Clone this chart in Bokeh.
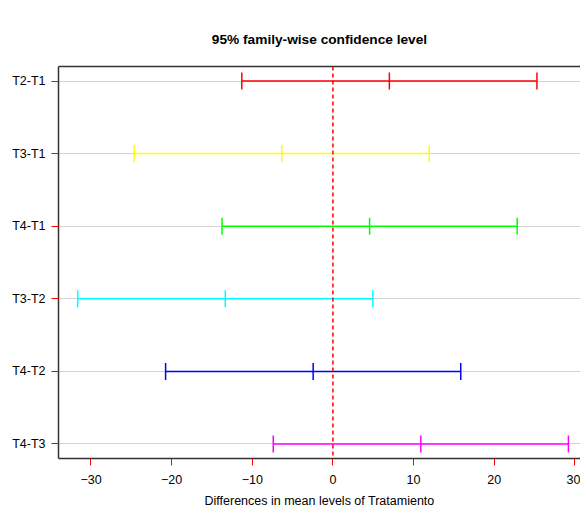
import math
from bokeh.plotting import figure
from bokeh.models import ColumnDataSource, FixedTicker, LinearAxis, Span, Range1d
from bokeh.embed import file_html
from bokeh.resources import INLINE

# Data
comparisons = ["T2-T1", "T3-T1", "T4-T1", "T3-T2", "T4-T2", "T4-T3"]
diff = [7.0, -6.35, 4.55, -13.35, -2.45, 10.9]
lwr = [-11.3, -24.65, -13.75, -31.65, -20.75, -7.4]
upr = [25.3, 11.95, 22.85, 4.95, 15.85, 29.2]
colors = ["red", "yellow", "#00ff00", "cyan", "blue", "magenta"]
x_ticks = [-30, -20, -10, 0, 10, 20, 30]
title_text = "95% family-wise confidence level"
xlabel_text = "Differences in mean levels of Tratamiento"

n = len(comparisons)
ypos = [n - i for i in range(n)]

src = ColumnDataSource(dict(comp=comparisons, diff=diff, lwr=lwr, upr=upr, y=ypos, color=colors))

FONT = "Liberation Sans"

p = figure(width=580, height=510, output_backend="svg", toolbar_location=None,
           x_range=Range1d(-34.03, 30.7), y_range=Range1d(0.8, 6.2),
           min_border_left=58, min_border_right=0, min_border_top=66, min_border_bottom=52)
p.outline_line_color = None
p.background_fill_color = "white"
p.border_fill_color = "white"

# title
p.title.text = title_text
p.title.align = "center"
p.title.text_font = FONT
p.title.text_font_size = "13.7px"
p.title.text_font_style = "bold"
p.title.text_color = "black"
p.title.standoff = 19

# x axis
xa = p.xaxis[0]
xa.ticker = FixedTicker(ticks=x_ticks)
xa.axis_line_color = "#333333"
xa.axis_line_width = 1.5
xa.major_tick_line_color = "red"
xa.major_tick_out = 7
xa.major_tick_in = 0
xa.minor_tick_line_color = None
xa.major_label_text_font = FONT
xa.major_label_text_font_size = "12.5px"
xa.major_label_text_color = "black"
xa.major_label_standoff = 9
xa.axis_label = xlabel_text
xa.axis_label_text_font = FONT
xa.axis_label_text_font_size = "12.5px"
xa.axis_label_text_font_style = "normal"
xa.axis_label_text_color = "black"
xa.axis_label_standoff = 7

# y axis
ya = p.yaxis[0]
ya.ticker = FixedTicker(ticks=ypos)
ya.major_label_overrides = {y: c for y, c in zip(ypos, comparisons)}
ya.axis_line_color = "#333333"
ya.axis_line_width = 1.5
ya.major_tick_line_color = "red"
ya.major_tick_out = 7
ya.major_tick_in = 0
ya.minor_tick_line_color = None
ya.major_label_text_font = FONT
ya.major_label_text_font_size = "12.5px"
ya.major_label_text_color = "black"
ya.major_label_standoff = 6

# top border; an invisible tick label gives it height so the title sits higher
top = LinearAxis(ticker=FixedTicker(ticks=[0]), axis_line_color="#333333", axis_line_width=1.5,
                 major_tick_line_color=None, minor_tick_line_color=None,
                 major_tick_out=10, major_tick_in=0, major_label_standoff=6,
                 major_label_text_font=FONT, major_label_text_font_size="12.5px",
                 major_label_text_alpha=0)
p.add_layout(top, "above")

p.xgrid.grid_line_color = None
p.ygrid.ticker = FixedTicker(ticks=ypos)
p.ygrid.grid_line_color = "#d3d3d3"
p.ygrid.grid_line_width = 1

# intervals
p.segment(x0="lwr", y0="y", x1="upr", y1="y", line_color="color", line_width=1.5, source=src)
for col in ["lwr", "diff", "upr"]:
    p.scatter(x=col, y="y", marker="dash", angle=math.pi / 2, size=17,
              line_color="color", line_width=1.5, source=src)

p.add_layout(Span(location=0, dimension="height", line_color="red", line_dash="4 3", line_width=1.5))

open("out.html", "w").write(file_html(p, INLINE))
